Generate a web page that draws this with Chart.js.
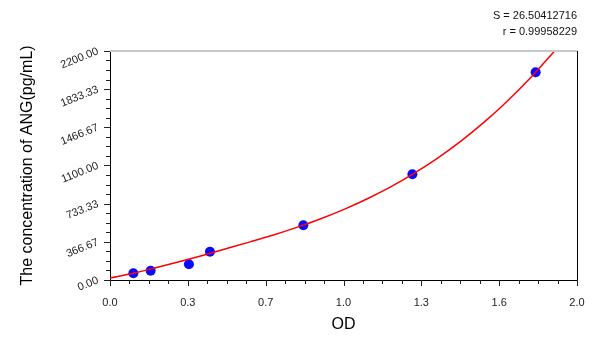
<!DOCTYPE html>
<html lang="en">
<head>
<meta charset="UTF-8">
<title>ANG standard curve</title>
<script src="https://cdn.jsdelivr.net/npm/chart.js"></script>
<style>
  html, body { margin: 0; padding: 0; background: #fff; }
  #wrap { width: 600px; height: 337px; }
</style>
</head>
<body>
<div id="wrap"><canvas id="curve"></canvas></div>
<script>
// standards (OD, concentration)
const stdOD   = [0.100, 0.174, 0.338, 0.428, 0.828, 1.295, 1.823];
const stdConc = [64, 89, 151, 272, 525, 1015, 1995];

// fitted curve at regular OD steps
const fitOD   = [0, 0.1, 0.2, 0.3, 0.4, 0.5, 0.6, 0.7, 0.8, 0.9, 1.0, 1.1, 1.2, 1.3, 1.4, 1.5, 1.6, 1.7, 1.8, 1.9, 1.92];
const fitConc = [20, 65, 120, 178, 238, 302, 366, 432, 505, 586, 676, 778, 892, 1021, 1166, 1329, 1511, 1714, 1940, 2190, 2240];

const xTickValues = [0, 1/3, 2/3, 1, 4/3, 5/3, 2];
const xTickLabels = ['0.0', '0.3', '0.7', '1.0', '1.3', '1.6', '2.0'];
const yTickValues = [0, 2200/6, 4400/6, 1100, 8800/6, 11000/6, 2200];
const yTickLabels = ['0.00', '366.67', '733.33', '1100.00', '1466.67', '1833.33', '2200.00'];

const statLines = ['S = 26.50412716', 'r = 0.99958229'];

const FONT = "'Liberation Sans', Arial, sans-serif";

// frame + major/minor tick marks
const frame = {
  id: 'frame',
  afterDraw(chart) {
    const {ctx, chartArea: a, scales: {x, y}} = chart;
    ctx.save();
    ctx.strokeStyle = '#c8c8c8';
    ctx.lineWidth = 2;
    ctx.beginPath();
    ctx.moveTo(a.left, a.top); ctx.lineTo(a.right, a.top);
    ctx.stroke();
    ctx.strokeStyle = '#000';
    ctx.lineWidth = 1;
    ctx.beginPath();
    ctx.moveTo(a.right + 0.5, a.top); ctx.lineTo(a.right + 0.5, a.bottom);
    ctx.stroke();
    ctx.strokeStyle = '#222';
    ctx.beginPath();
    for (let i = 0; i < xTickValues.length; i++) {
      const px = Math.round(x.getPixelForValue(xTickValues[i])) + 0.5;
      ctx.moveTo(px, a.bottom); ctx.lineTo(px, a.bottom + 6);
      if (i < xTickValues.length - 1) {
        const step = (xTickValues[i + 1] - xTickValues[i]) / 4;
        for (let k = 1; k < 4; k++) {
          const mx = Math.round(x.getPixelForValue(xTickValues[i] + k * step)) + 0.5;
          ctx.moveTo(mx, a.bottom); ctx.lineTo(mx, a.bottom + 4);
        }
      }
    }
    for (let i = 0; i < yTickValues.length; i++) {
      const py = Math.round(y.getPixelForValue(yTickValues[i])) + 0.5;
      ctx.moveTo(a.left, py); ctx.lineTo(a.left - 6, py);
      if (i < yTickValues.length - 1) {
        const step = (yTickValues[i + 1] - yTickValues[i]) / 4;
        for (let k = 1; k < 4; k++) {
          const my = Math.round(y.getPixelForValue(yTickValues[i] + k * step)) + 0.5;
          ctx.moveTo(a.left, my); ctx.lineTo(a.left - 4, my);
        }
      }
    }
    ctx.stroke();
    ctx.restore();
  }
};

new Chart(document.getElementById('curve'), {
  type: 'scatter',
  data: {
    datasets: [
      {
        label: 'fit',
        data: fitOD.map((v, i) => ({x: v, y: fitConc[i]})),
        showLine: true,
        borderColor: '#ff0000',
        borderWidth: 1.5,
        pointRadius: 0,
        tension: 0.4,
        cubicInterpolationMode: 'monotone',
        order: 1
      },
      {
        label: 'standards',
        data: stdOD.map((v, i) => ({x: v, y: stdConc[i]})),
        backgroundColor: '#0a0aff',
        borderWidth: 0,
        pointRadius: 5,
        order: 2
      }
    ]
  },
  plugins: [frame],
  options: {
    responsive: true,
    maintainAspectRatio: false,
    animation: false,
    layout: { padding: { top: 4, right: 23, left: 0, bottom: 0 } },
    plugins: {
      legend: { display: false },
      tooltip: { enabled: false },
      title: {
        display: true,
        text: statLines,
        align: 'end',
        color: '#111',
        font: { family: FONT, size: 11, weight: 'normal', lineHeight: 1.45 },
        padding: { top: 4, bottom: 11 }
      }
    },
    scales: {
      x: {
        type: 'linear',
        min: 0, max: 2,
        grid: { display: false },
        border: { display: true, color: '#000', width: 1 },
        afterBuildTicks: s => { s.ticks = xTickValues.map(v => ({value: v})); },
        afterFit: s => { s.height = 57; },
        ticks: {
          padding: 8,
          color: '#222',
          font: { family: FONT, size: 11 },
          maxRotation: 0,
          callback: (v, i) => xTickLabels[i]
        },
        title: {
          display: true,
          text: 'OD',
          color: '#000',
          font: { family: FONT, size: 16 },
          padding: { top: 0, bottom: 3 }
        }
      },
      y: {
        type: 'linear',
        min: 0, max: 2200,
        grid: { display: false },
        border: { display: true, color: '#000', width: 1 },
        afterBuildTicks: s => { s.ticks = yTickValues.map(v => ({value: v})); },
        afterFit: s => { s.width = 110; },
        ticks: {
          padding: 4,
          color: '#222',
          minRotation: 22,
          maxRotation: 22,
          font: { family: FONT, size: 11 },
          callback: (v, i) => yTickLabels[i]
        },
        title: {
          display: true,
          text: 'The concentration of ANG(pg/mL)',
          color: '#000',
          font: { family: FONT, size: 16 },
          padding: { top: 18, bottom: 0 }
        }
      }
    }
  }
});
</script>
</body>
</html>
